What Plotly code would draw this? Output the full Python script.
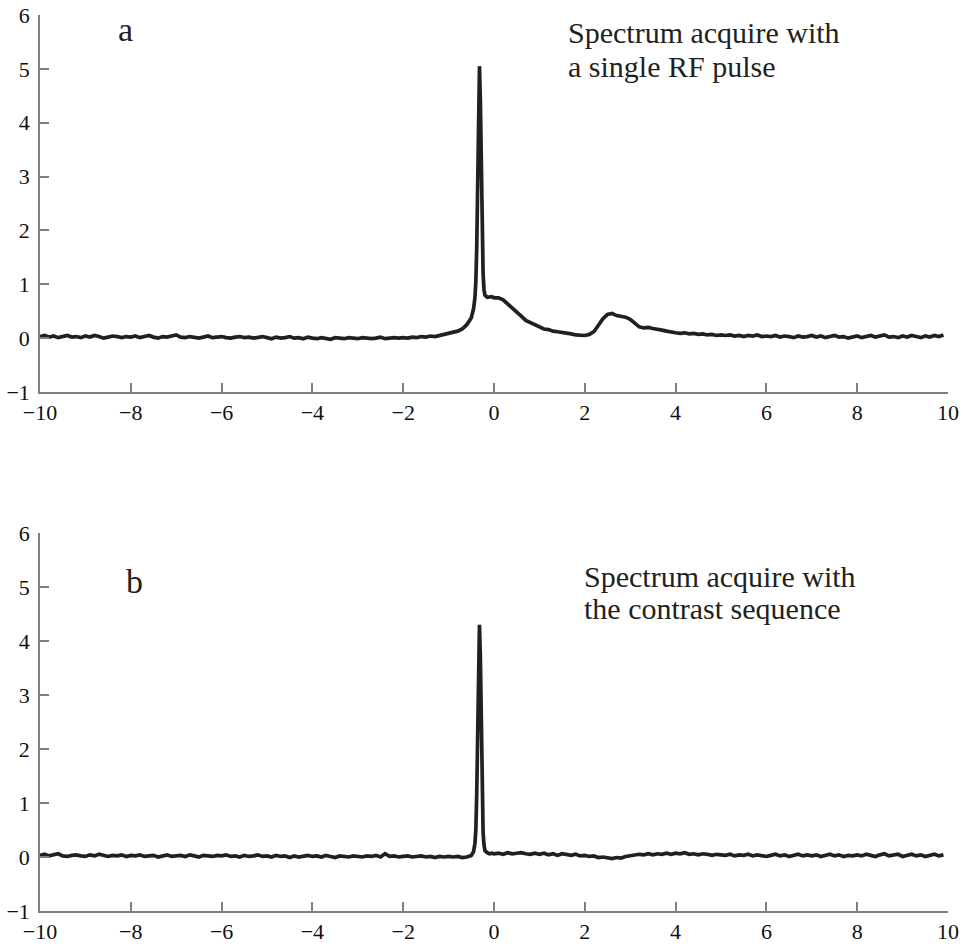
import plotly.graph_objects as go

# chemical shift sampling (ppm), shared by both spectra
ppm = [
    -10.0, -9.9, -9.8, -9.7, -9.6, -9.5, -9.4, -9.3, -9.2, -9.1,
    -9.0, -8.9, -8.8, -8.7, -8.6, -8.5, -8.4, -8.3, -8.2, -8.1,
    -8.0, -7.9, -7.8, -7.7, -7.6, -7.5, -7.4, -7.3, -7.2, -7.1,
    -7.0, -6.9, -6.8, -6.7, -6.6, -6.5, -6.4, -6.3, -6.2, -6.1,
    -6.0, -5.9, -5.8, -5.7, -5.6, -5.5, -5.4, -5.3, -5.2, -5.1,
    -5.0, -4.9, -4.8, -4.7, -4.6, -4.5, -4.4, -4.3, -4.2, -4.1,
    -4.0, -3.9, -3.8, -3.7, -3.6, -3.5, -3.4, -3.3, -3.2, -3.1,
    -3.0, -2.9, -2.8, -2.7, -2.6, -2.5, -2.4, -2.3, -2.2, -2.1,
    -2.0, -1.9, -1.8, -1.7, -1.6, -1.5, -1.4, -1.3, -1.2, -1.1,
    -1.0, -0.9, -0.8, -0.7, -0.6,
    -0.5, -0.45, -0.42, -0.4, -0.38, -0.36, -0.34, -0.32, -0.3, -0.28,
    -0.26, -0.24, -0.22, -0.2, -0.15, -0.1, -0.05, 0.0,
    0.1, 0.2, 0.3, 0.4, 0.5, 0.6, 0.7, 0.8, 0.9, 1.0,
    1.1, 1.2, 1.3, 1.4, 1.5, 1.6, 1.7, 1.8, 1.9, 2.0,
    2.1, 2.2, 2.3, 2.4, 2.5, 2.6, 2.7, 2.8, 2.9, 3.0,
    3.1, 3.2, 3.3, 3.4, 3.5, 3.6, 3.7, 3.8, 3.9, 4.0,
    4.1, 4.2, 4.3, 4.4, 4.5, 4.6, 4.7, 4.8, 4.9, 5.0,
    5.1, 5.2, 5.3, 5.4, 5.5, 5.6, 5.7, 5.8, 5.9, 6.0,
    6.1, 6.2, 6.3, 6.4, 6.5, 6.6, 6.7, 6.8, 6.9, 7.0,
    7.1, 7.2, 7.3, 7.4, 7.5, 7.6, 7.7, 7.8, 7.9, 8.0,
    8.1, 8.2, 8.3, 8.4, 8.5, 8.6, 8.7, 8.8, 8.9, 9.0,
    9.1, 9.2, 9.3, 9.4, 9.5, 9.6, 9.7, 9.8, 9.9,
]

# (a) spectrum acquired with a single RF pulse
signal_a = [
    0.03, 0.05, 0.02, 0.04, 0.01, 0.03, 0.05, 0.02, 0.03, 0.01,
    0.04, 0.02, 0.05, 0.03, 0.00, 0.02, 0.04, 0.03, 0.01, 0.03,
    0.02, 0.04, 0.01, 0.03, 0.05, 0.02, 0.00, 0.03, 0.02, 0.04,
    0.06, 0.02, 0.01, 0.03, 0.02, 0.00, 0.02, 0.04, 0.01, 0.02,
    0.03, 0.01, 0.00, 0.02, 0.03, 0.01, 0.02, 0.00, 0.01, 0.03,
    0.01, -0.01, 0.02, 0.00, 0.01, 0.03, 0.00, 0.01, -0.01, 0.02,
    0.00, -0.01, 0.01, 0.00, -0.02, 0.01, 0.00, -0.01, 0.01, 0.00,
    -0.01, 0.01, 0.00, -0.01, 0.00, 0.02, -0.01, 0.00, 0.01, 0.00,
    0.01, 0.00, 0.02, 0.01, 0.03, 0.02, 0.04, 0.03, 0.05, 0.06,
    0.08, 0.10, 0.13, 0.17, 0.25,
    0.38, 0.55, 0.75, 1.05, 1.70, 2.80, 4.20, 5.05, 4.40, 3.00,
    1.90, 1.20, 0.90, 0.80, 0.76, 0.76, 0.77, 0.75,
    0.75, 0.71, 0.64, 0.55, 0.48, 0.41, 0.33, 0.29, 0.24, 0.21,
    0.17, 0.16, 0.13, 0.12, 0.11, 0.09, 0.08, 0.06, 0.05, 0.05,
    0.07, 0.12, 0.24, 0.36, 0.44, 0.46, 0.42, 0.41, 0.39, 0.35,
    0.28, 0.21, 0.19, 0.20, 0.18, 0.17, 0.15, 0.13, 0.11, 0.10,
    0.09, 0.10, 0.08, 0.09, 0.07, 0.08, 0.06, 0.07, 0.05, 0.06,
    0.05, 0.06, 0.04, 0.05, 0.03, 0.05, 0.04, 0.06, 0.03, 0.04,
    0.03, 0.05, 0.02, 0.04, 0.03, 0.01, 0.04, 0.02, 0.03, 0.05,
    0.02, 0.04, 0.01, 0.03, 0.05, 0.02, 0.03, 0.00, 0.02, 0.04,
    0.01, 0.03, 0.05, 0.02, 0.04, 0.06, 0.02, 0.03, 0.01, 0.04,
    0.02, 0.05, 0.03, 0.01, 0.04, 0.02, 0.05, 0.03, 0.06,
]

# (b) spectrum acquired with the contrast sequence
signal_b = [
    0.03, 0.05, 0.02, 0.04, 0.06, 0.02, 0.01, 0.03, 0.04, 0.02,
    0.01, 0.04, 0.02, 0.05, 0.03, 0.01, 0.03, 0.02, 0.04, 0.01,
    0.03, 0.02, 0.04, 0.01, 0.02, 0.03, 0.00, 0.02, 0.04, 0.01,
    0.02, 0.03, 0.01, 0.04, 0.02, 0.00, 0.03, 0.02, 0.01, 0.03,
    0.02, 0.04, 0.01, 0.02, 0.00, 0.03, 0.01, 0.02, 0.04, 0.01,
    0.02, 0.00, 0.03, 0.01, 0.02, -0.01, 0.02, 0.00, 0.01, 0.03,
    0.01, 0.02, 0.00, 0.03, 0.01, -0.01, 0.02, 0.01, 0.00, 0.02,
    0.01, 0.00, 0.02, 0.01, 0.03, 0.00, 0.06, 0.01, 0.02, 0.00,
    0.01, 0.02, 0.00, 0.01, 0.02, 0.00, 0.01, -0.01, 0.01, 0.00,
    0.01, 0.00, 0.01, -0.01, 0.00,
    0.03, 0.10, 0.25, 0.50, 1.20, 2.30, 3.60, 4.30, 3.70, 2.20,
    1.10, 0.45, 0.22, 0.12, 0.08, 0.06, 0.07, 0.06,
    0.07, 0.05, 0.08, 0.06, 0.07, 0.08, 0.06, 0.05, 0.07, 0.05,
    0.07, 0.04, 0.06, 0.03, 0.06, 0.04, 0.03, 0.05, 0.02, 0.03,
    0.01, 0.02, -0.01, 0.00, -0.02, -0.03, -0.01, -0.02, 0.01, 0.02,
    0.03, 0.05, 0.04, 0.06, 0.04, 0.06, 0.05, 0.07, 0.05, 0.07,
    0.06, 0.08, 0.05, 0.06, 0.04, 0.06, 0.05, 0.03, 0.05, 0.04,
    0.03, 0.05, 0.02, 0.04, 0.03, 0.05, 0.02, 0.04, 0.03, 0.01,
    0.03, 0.05, 0.02, 0.04, 0.01, 0.03, 0.05, 0.02, 0.04, 0.02,
    0.04, 0.01, 0.03, 0.05, 0.02, 0.04, 0.01, 0.03, 0.02, 0.04,
    0.02, 0.05, 0.03, 0.01, 0.04, 0.06, 0.02, 0.03, 0.05, 0.01,
    0.03, 0.05, 0.02, 0.04, 0.01, 0.03, 0.05, 0.02, 0.04,
]

x_ticks = [-10, -8, -6, -4, -2, 0, 2, 4, 6, 8, 10]
y_ticks = [-1, 0, 1, 2, 3, 4, 5, 6]
x_labels = ["\u221210", "\u22128", "\u22126", "\u22124", "\u22122", "0", "2", "4", "6", "8", "10"]
y_labels = ["\u22121", "0", "1", "2", "3", "4", "5", "6"]

FONT = "Liberation Serif"
LINE = "#231f20"

fig = go.Figure()
fig.add_trace(go.Scatter(x=ppm, y=signal_a, mode="lines", xaxis="x", yaxis="y",
                         line=dict(color=LINE, width=3.7), showlegend=False))
fig.add_trace(go.Scatter(x=ppm, y=signal_b, mode="lines", xaxis="x2", yaxis="y2",
                         line=dict(color=LINE, width=3.7), showlegend=False))

axis_common = dict(showline=True, linecolor="#808080", linewidth=1.5,
                   ticks="inside", ticklen=9, tickwidth=1.5, tickcolor="#808080",
                   showgrid=False, zeroline=False, automargin=False,
                   tickfont=dict(family=FONT, size=22, color="#111111"))
y_extra = dict(ticklabelstandoff=4)

W, H = 963, 948
L, R, T, B = 40, 15, 15, 37
pw, ph = W - L - R, H - T - B


def px_to_paper(px, py):
    return (px - L) / pw, 1 - (py - T) / ph


# annotation texts with pixel anchor positions (x, y centre) and sizes
texts = [
    ("a", 125, 29, 34, "center"),
    ("Spectrum acquire with", 566, 32, 30, "left"),
    ("a single RF pulse", 566, 66, 30, "left"),
    ("b", 134, 581, 34, "center"),
    ("Spectrum acquire with", 582, 576, 30, "left"),
    ("the contrast sequence", 582, 608, 30, "left"),
]
annotations = []
for txt, px, py, size, xa in texts:
    xp, yp = px_to_paper(px, py)
    annotations.append(dict(text=txt, x=xp, y=yp, xref="paper", yref="paper",
                            showarrow=False, xanchor=xa, yanchor="middle",
                            font=dict(family=FONT, size=size, color="#231f20")))

fig.update_layout(
    width=W, height=H,
    margin=dict(l=L, r=R, t=T, b=B, autoexpand=False),
    paper_bgcolor="white", plot_bgcolor="white",
    font=dict(family=FONT, color="#111111"),
    xaxis=dict(domain=[0, 1], anchor="y", range=[-10, 10],
               tickvals=x_ticks, ticktext=x_labels, **axis_common),
    yaxis=dict(domain=[0.5792, 1], anchor="x", range=[-1, 6],
               tickvals=y_ticks, ticktext=y_labels, **axis_common, **y_extra),
    xaxis2=dict(domain=[0, 1], anchor="y2", range=[-10, 10],
                tickvals=x_ticks, ticktext=x_labels, **axis_common),
    yaxis2=dict(domain=[0, 0.4219], anchor="x2", range=[-1, 6],
                tickvals=y_ticks, ticktext=y_labels, **axis_common, **y_extra),
    annotations=annotations,
)

fig.write_html("out.html")
